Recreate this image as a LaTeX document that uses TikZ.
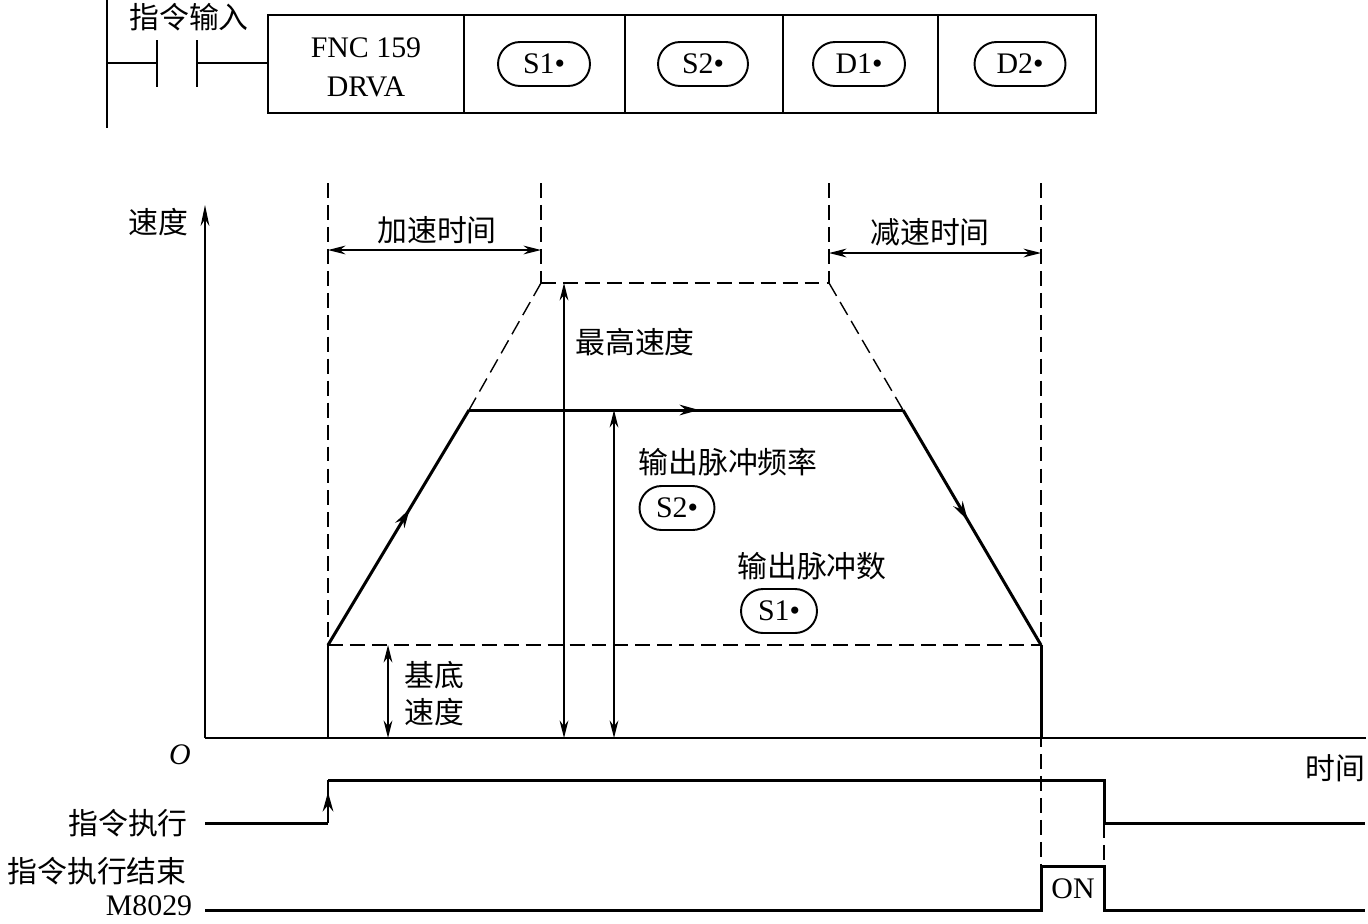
\documentclass[tikz,border=0pt]{standalone}
\usepackage{fontspec}
\setmainfont{Liberation Serif}
\newfontfamily\cjk{Noto Sans CJK SC}
\usetikzlibrary{arrows.meta,decorations.markings}
\tikzset{
  thin line/.style={line width=0.8pt},
  thick line/.style={line width=1.7pt},
  box line/.style={line width=1.1pt},
  dash line/.style={line width=0.8pt, dash pattern=on 8.5pt off 4pt},
  dimarrow/.style={thin line, {Stealth[length=10pt,width=5pt]}-{Stealth[length=10pt,width=5pt]}},
  lbl/.style={font=\fontsize{17}{20}\selectfont\cjk, inner sep=0pt},
  txt/.style={font=\fontsize{17}{20}\selectfont, inner sep=0pt},
  pill/.style={draw, line width=1.1pt, rounded corners=0.44cm, minimum height=0.88cm, font=\fontsize{17}{20}\selectfont, inner sep=0pt},
  midarrow/.style={postaction={decorate}, decoration={markings, mark=at position #1 with {\arrow{Stealth[length=11pt,width=6pt]}}}}
}
\begin{document}
\begin{tikzpicture}[x=0.02cm,y=-0.02cm]
\useasboundingbox (0,0) rectangle (1368,923);
% ---------- ladder rung ----------
\coordinate (railT) at (107,0);
\coordinate (railB) at (107,128);
\draw[box line] (railT) -- (railB);
\coordinate (c1T) at (157,40); \coordinate (c1B) at (157,87);
\coordinate (c2T) at (197,40); \coordinate (c2B) at (197,87);
\draw[box line] (c1T) -- (c1B);
\draw[box line] (c2T) -- (c2B);
\coordinate (r0) at (107,63); \coordinate (r1) at (157,63);
\coordinate (r2) at (197,63); \coordinate (r3) at (268,63);
\draw[box line] (r0) -- (r1);
\draw[box line] (r2) -- (r3);
\node[lbl] (inlbl) at (189,17) {指令输入};
\draw[box line] (268,15) rectangle (1096,113);
\foreach \xx in {464,625,783,938} \draw[box line] (\xx,15) -- (\xx,113);
\node[txt] (fnc) at (366,48) {FNC 159};
\node[txt] (drva) at (366,87) {DRVA};
\node[pill, minimum width=1.84cm] (ps1) at (544,64) {S1\textbullet};
\node[pill, minimum width=1.80cm] (ps2) at (703,64) {S2\textbullet};
\node[pill, minimum width=1.84cm] (pd1) at (859,64) {D1\textbullet};
\node[pill, minimum width=1.82cm] (pd2) at (1020,64) {D2\textbullet};
% ---------- axes ----------
\coordinate (O) at (205,738);
\coordinate (ytop) at (205,205);
\coordinate (xend) at (1366,738);
\draw[thin line, -{Stealth[length=12pt,width=5pt]}] (O) -- (ytop);
\draw[thin line] (O) -- (xend);
\node[lbl] (ylbl) at (158,222) {速度};
\node[lbl] (xlbl) at (1335,768) {时间};
\node[txt, font=\fontsize{17}{20}\selectfont\itshape] (olbl) at (180,755) {O};
% ---------- key points ----------
\coordinate (A0) at (328,738);
\coordinate (A1) at (328,645);
\coordinate (A2) at (469,410);
\coordinate (A3) at (903,410);
\coordinate (A4) at (1041,645);
\coordinate (A5) at (1041,738);
\coordinate (T1) at (541,283);
\coordinate (T2) at (829,283);
% dashed guide lines
\coordinate (g1t) at (328,183);
\coordinate (g2t) at (541,183);
\coordinate (g3t) at (829,183);
\coordinate (g4t) at (1041,183);
\coordinate (g4b) at (1041,866);
\draw[dash line] (g1t) -- (A1);
\draw[dash line] (g2t) -- (T1);
\draw[dash line] (g3t) -- (T2);
\draw[dash line] (g4t) -- (g4b);
\draw[dash line] (T1) -- (T2);
\draw[dash line] (T1) -- (A2);
\draw[dash line] (T2) -- (A3);
\draw[dash line] (A1) -- (A4);
% dimension arrows
\coordinate (d1a) at (328,250); \coordinate (d1b) at (541,250);
\draw[dimarrow] (d1a) -- (d1b);
\node[lbl] (acc) at (437,230) {加速时间};
\coordinate (d2a) at (829,253); \coordinate (d2b) at (1041,253);
\draw[dimarrow] (d2a) -- (d2b);
\node[lbl] (dec) at (930,232) {减速时间};
% speed profile
\draw[thick line] (A0) -- (A1);
\draw[thick line, midarrow=0.58] (A1) -- (A2);
\draw[thick line, midarrow=0.53] (A2) -- (A3);
\draw[thick line, midarrow=0.47] (A3) -- (A4);
\draw[thick line] (A4) -- (A5);
% vertical arrows
\coordinate (m1) at (564,283); \coordinate (m0) at (564,738);
\draw[dimarrow] (m0) -- (m1);
\node[lbl] (maxv) at (635,342) {最高速度};
\coordinate (f1) at (614,410); \coordinate (f0) at (614,738);
\draw[dimarrow] (f0) -- (f1);
\node[lbl] (freq) at (728,462) {输出脉冲频率};
\node[pill, minimum width=1.50cm] (cs2) at (677,508) {S2\textbullet};
\node[lbl] (num) at (812,566) {输出脉冲数};
\node[pill, minimum width=1.52cm] (cs1) at (779,611) {S1\textbullet};
\coordinate (b1) at (388,645); \coordinate (b0) at (388,738);
\draw[dimarrow] (b0) -- (b1);
\node[lbl] (base1) at (434,675) {基底};
\node[lbl] (base2) at (434,712) {速度};
% ---------- timing ----------
\node[lbl] (exe) at (128,823) {指令执行};
\node[lbl] (fin) at (97,871) {指令执行结束};
\node[txt] (m8029) at (149,906) {M8029};
\coordinate (e0) at (205,823);
\coordinate (e1) at (328,823);
\coordinate (e2) at (328,780);
\coordinate (e3) at (1104,780);
\coordinate (e4) at (1104,823);
\coordinate (e5) at (1365,823);
\draw[thick line] (e0) -- (e1);
\draw[thick line, midarrow=0.72] (e1) -- (e2);
\draw[thick line] (e2) -- (e3) -- (e4) -- (e5);
\coordinate (n0) at (205,910);
\coordinate (n1) at (1041,910);
\coordinate (n2) at (1041,866);
\coordinate (n3) at (1104,866);
\coordinate (n4) at (1104,910);
\coordinate (n5) at (1365,910);
\draw[thick line] (n0) -- (n1) -- (n2) -- (n3) -- (n4) -- (n5);
\draw[dash line] (e4) -- (n3);
\node[txt] (on) at (1073,889) {ON};
\end{tikzpicture}
\end{document}
